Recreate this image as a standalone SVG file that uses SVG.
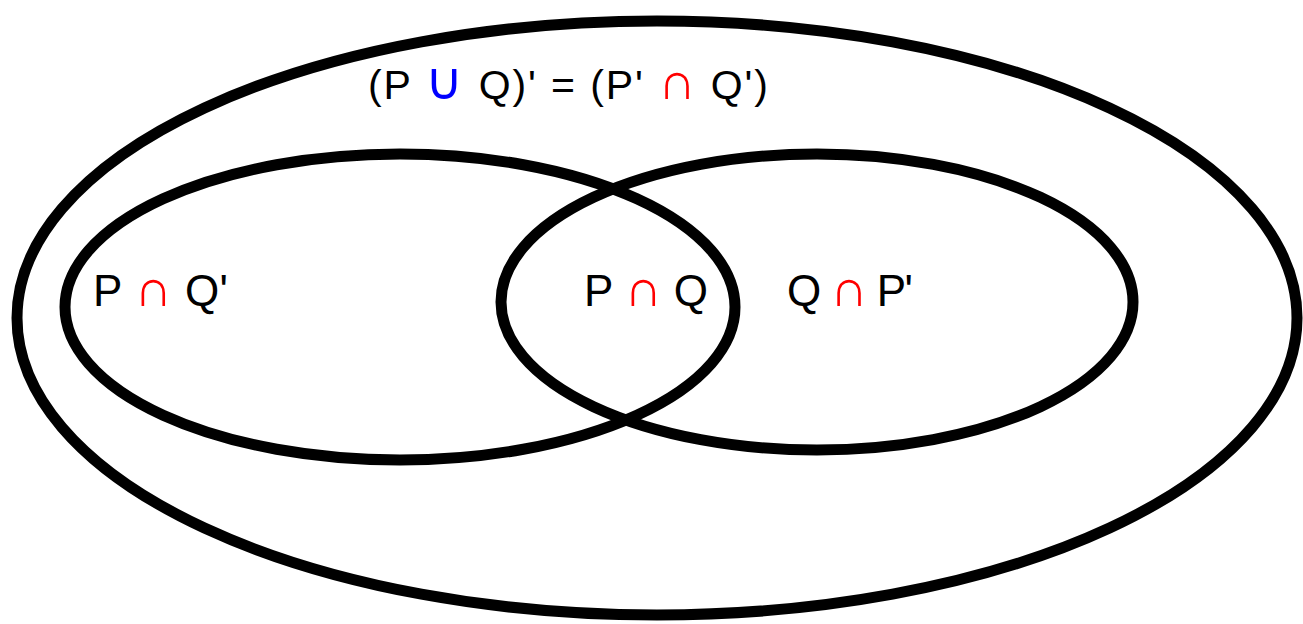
<svg xmlns="http://www.w3.org/2000/svg" width="1303" height="624" viewBox="0 0 1303 624">
<style>
.ring{fill:none;stroke:#000;stroke-width:11}
.t{font-family:"Liberation Sans",Arial,sans-serif;fill:#000}
.s{font-size:52px}
.r{fill:#ff0000}
.b{fill:#0000ff}
</style>
<rect width="1303" height="624" fill="#fff"/>
<g id="universe"><ellipse class="ring" cx="657" cy="318" rx="640" ry="297"/></g>
<g id="setP"><ellipse class="ring" cx="400" cy="307" rx="335" ry="153"/></g>
<g id="setQ"><ellipse class="ring" cx="817" cy="302" rx="316" ry="148"/></g>
<g id="connectors"></g>
<g id="title"><text class="t" x="368" y="99" font-size="41" textLength="400" lengthAdjust="spacing">(P <tspan class="b s">∪</tspan> Q)' = (P' <tspan class="r s">∩</tspan> Q')</text></g>
<g id="label-PnotQ"><text class="t" x="93" y="306" font-size="44" textLength="135" lengthAdjust="spacing">P <tspan class="r s">∩</tspan> Q'</text></g>
<g id="label-PQ"><text class="t" x="584" y="306" font-size="44" textLength="124" lengthAdjust="spacing">P <tspan class="r s">∩</tspan> Q</text></g>
<g id="label-QnotP"><text class="t" x="787" y="306" font-size="44" textLength="126" lengthAdjust="spacing">Q <tspan class="r s">∩</tspan> P'</text></g>
</svg>
